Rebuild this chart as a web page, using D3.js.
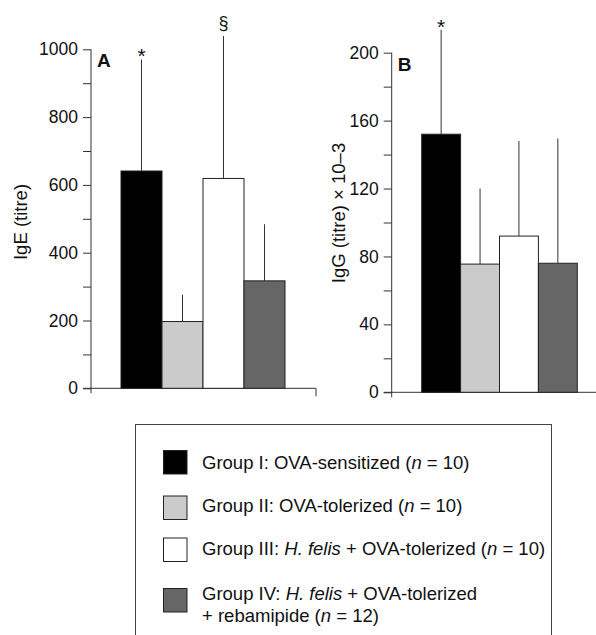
<!DOCTYPE html>
<html>
<head>
<meta charset="utf-8">
<script src="https://cdn.jsdelivr.net/npm/d3@7"></script>
<style>
  html, body { margin: 0; padding: 0; background: #fff; }
  svg { display: block; }
  text { font-family: "Liberation Sans", Arial, Helvetica, sans-serif; fill: #111; }
</style>
</head>
<body>
<svg id="chart" width="596" height="635"></svg>
<script>
// Groups (same order in both panels)
const groups = ["I", "II", "III", "IV"];
const groupColors = ["#000000", "#cbcbcb", "#ffffff", "#666666"];

// Panel A: IgE titre, mean and mean + SD
const igeMean = [641, 197, 619, 317];
const igeUpper = [970, 276, 1039, 484];
const igeMarks = ["*", "", "§", ""];
const igeTicks = [0, 100, 200, 300, 400, 500, 600, 700, 800, 900, 1000];

// Panel B: IgG titre × 10–3, mean and mean + SD
const iggMean = [152, 75.5, 92, 76];
const iggUpper = [213.5, 120, 148, 149.5];
const iggMarks = ["*", "", "", ""];
const iggTicks = [0, 20, 40, 60, 80, 100, 120, 140, 160, 180, 200];

// Legend entries (each entry: array of lines, each line: array of [text, italic])
const legendEntries = [
  [[["Group I: OVA-sensitized (", false], ["n", true], [" = 10)", false]]],
  [[["Group II: OVA-tolerized (", false], ["n", true], [" = 10)", false]]],
  [[["Group III: ", false], ["H. felis", true], [" + OVA-tolerized (", false], ["n", true], [" = 10)", false]]],
  [[["Group IV: ", false], ["H. felis", true], [" + OVA-tolerized", false]],
   [["+ rebamipide (", false], ["n", true], [" = 12)", false]]]
];

const svg = d3.select("#chart");
const axisColor = "#333";
const tickFont = 17.5;
const titleFont = 18.5;

function panel(opts) {
  const g = svg.append("g");
  const y = d3.scaleLinear().domain(opts.domain).range(opts.yRange);
  const x = d3.scaleBand().domain(groups).range(opts.xRange).padding(0);

  // y axis: every tick drawn, labels on every other one
  const axis = d3.axisLeft(y)
    .tickValues(opts.ticks)
    .tickSize(8)
    .tickPadding(5)
    .tickFormat((d, i) => (i % 2 === 0 ? String(d) : ""));
  const ag = g.append("g").attr("transform", `translate(${opts.axisX},0)`).call(axis);
  ag.select(".domain").remove();
  ag.selectAll(".tick line").attr("stroke", axisColor);
  ag.selectAll(".tick text")
    .style("font-size", tickFont + "px")
    .style("font-family", '"Liberation Sans", Arial, sans-serif')
    .attr("fill", "#111");

  const y0 = y(opts.domain[0]);
  // vertical axis line, running a little past the baseline
  g.append("line")
    .attr("x1", opts.axisX).attr("x2", opts.axisX)
    .attr("y1", y(opts.domain[1])).attr("y2", y0 + 5)
    .attr("stroke", axisColor).attr("stroke-width", 1);
  // baseline
  g.append("line")
    .attr("x1", opts.axisX - 8).attr("x2", opts.baseEnd)
    .attr("y1", y0).attr("y2", y0)
    .attr("stroke", axisColor).attr("stroke-width", 1);
  if (opts.endTick) {
    g.append("line")
      .attr("x1", opts.baseEnd).attr("x2", opts.baseEnd)
      .attr("y1", y0).attr("y2", y0 + 8)
      .attr("stroke", axisColor).attr("stroke-width", 1);
  }

  // error bars (upper only), drawn behind bars
  g.selectAll(".err").data(groups).enter().append("line")
    .attr("x1", d => x(d) + x.bandwidth() / 2)
    .attr("x2", d => x(d) + x.bandwidth() / 2)
    .attr("y1", (d, i) => y(opts.mean[i]))
    .attr("y2", (d, i) => y(opts.upper[i]))
    .attr("stroke", "#333").attr("stroke-width", 1);

  // bars
  g.selectAll(".bar").data(groups).enter().append("rect")
    .attr("x", d => x(d))
    .attr("width", x.bandwidth())
    .attr("y", (d, i) => y(opts.mean[i]))
    .attr("height", (d, i) => y0 - y(opts.mean[i]))
    .attr("fill", (d, i) => groupColors[i])
    .attr("stroke", "#222").attr("stroke-width", 1);

  // significance marks above the error bars
  g.selectAll(".mark").data(groups).enter().append("text")
    .attr("x", d => x(d) + x.bandwidth() / 2)
    .attr("y", (d, i) => y(opts.upper[i]) + (opts.marks[i] === "§" ? -7 : 4))
    .attr("text-anchor", "middle")
    .style("font-size", (d, i) => (opts.marks[i] === "§" ? "18px" : "21px"))
    .text((d, i) => opts.marks[i]);

  // panel letter
  g.append("text")
    .attr("x", opts.axisX + 6).attr("y", y(opts.domain[1]) + 18)
    .style("font-size", "19px").style("font-weight", "bold")
    .text(opts.letter);

  // y axis title
  g.append("text")
    .attr("transform", `translate(${opts.titleX},${opts.titleY}) rotate(-90)`)
    .attr("text-anchor", "middle")
    .style("font-size", titleFont + "px")
    .text(opts.title);
}

panel({
  domain: [0, 1000], yRange: [388.3, 49.3], xRange: [121, 285],
  axisX: 91, baseEnd: 316, endTick: true,
  ticks: igeTicks, mean: igeMean, upper: igeUpper, marks: igeMarks,
  letter: "A", title: "IgE (titre)", titleX: 27, titleY: 222
});

panel({
  domain: [0, 200], yRange: [392.3, 52.7], xRange: [421.7, 577.3],
  axisX: 391.7, baseEnd: 596, endTick: false,
  ticks: iggTicks, mean: iggMean, upper: iggUpper, marks: iggMarks,
  letter: "B", title: "IgG (titre) \u00d7 10\u20133", titleX: 345, titleY: 213
});

// Legend box
const lg = svg.append("g");
lg.append("rect")
  .attr("x", 135.5).attr("y", 424.5).attr("width", 416).attr("height", 230)
  .attr("fill", "none").attr("stroke", "#444").attr("stroke-width", 1);

const swatchY = [450, 495.5, 537.5, 588];
const textY = [468.5, 512, 555, 600];
const legendFont = 18.5;
legendEntries.forEach((lines, i) => {
  lg.append("rect")
    .attr("x", 163.5).attr("y", swatchY[i] + 0.5)
    .attr("width", 23.5).attr("height", 23.5)
    .attr("fill", groupColors[i])
    .attr("stroke", "#222").attr("stroke-width", 1);
  lines.forEach((segs, li) => {
    const t = lg.append("text")
      .attr("x", 202).attr("y", textY[i] + li * 22)
      .style("font-size", legendFont + "px");
    segs.forEach(([s, it]) => {
      t.append("tspan").style("font-style", it ? "italic" : "normal").text(s);
    });
  });
});
</script>
</body>
</html>
